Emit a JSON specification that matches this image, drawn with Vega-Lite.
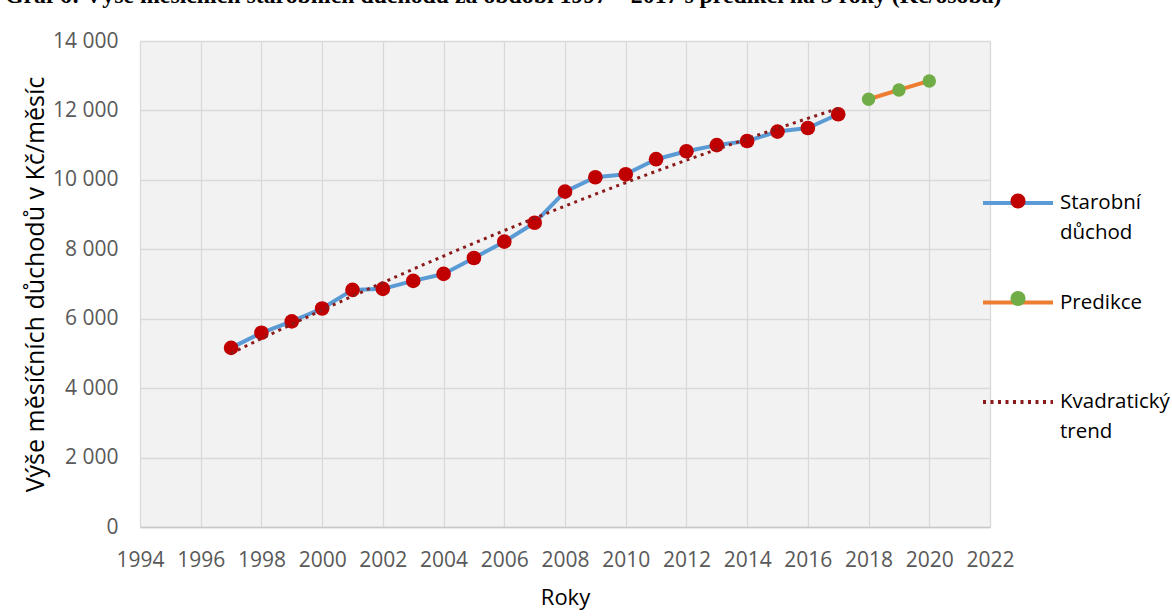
{
  "$schema": "https://vega.github.io/schema/vega-lite/v6.json",
  "width": 850,
  "height": 486,
  "autosize": {"type": "none"},
  "padding": {"left": 140, "top": 41, "right": 182, "bottom": 89},
  "background": "white",
  "title": {
    "text": "Graf 6: Výše měsíčních starobních důchodů za období 1997 – 2017 s predikcí na 3 roky (Kč/osoba)",
    "anchor": "start",
    "frame": "group",
    "font": "Liberation Serif",
    "fontSize": 23.8,
    "fontWeight": "bold",
    "color": "#000000",
    "baseline": "alphabetic",
    "offset": 26,
    "dx": -135,
    "dy": 23
  },
  "config": {
    "view": {"fill": "#F2F2F2", "stroke": null},
    "font": "Open Sans",
    "axis": {
      "labelFont": "Open Sans",
      "labelFontSize": 21,
      "labelColor": "#595959",
      "titleFont": "Open Sans",
      "titleFontSize": 22,
      "titleFontWeight": "normal",
      "titleColor": "#000000",
      "gridColor": "#D9D9D9",
      "gridWidth": 1.3,
      "gridOpacity": 1,
      "ticks": false,
      "tickSize": 0,
      "labelFlush": false
    }
  },
  "data": {
    "values": [
      {"year": 1997, "value": 5160, "series": "Starobní důchod"},
      {"year": 1998, "value": 5595, "series": "Starobní důchod"},
      {"year": 1999, "value": 5925, "series": "Starobní důchod"},
      {"year": 2000, "value": 6295, "series": "Starobní důchod"},
      {"year": 2001, "value": 6830, "series": "Starobní důchod"},
      {"year": 2002, "value": 6860, "series": "Starobní důchod"},
      {"year": 2003, "value": 7090, "series": "Starobní důchod"},
      {"year": 2004, "value": 7290, "series": "Starobní důchod"},
      {"year": 2005, "value": 7750, "series": "Starobní důchod"},
      {"year": 2006, "value": 8220, "series": "Starobní důchod"},
      {"year": 2007, "value": 8765, "series": "Starobní důchod"},
      {"year": 2008, "value": 9660, "series": "Starobní důchod"},
      {"year": 2009, "value": 10075, "series": "Starobní důchod"},
      {"year": 2010, "value": 10160, "series": "Starobní důchod"},
      {"year": 2011, "value": 10595, "series": "Starobní důchod"},
      {"year": 2012, "value": 10825, "series": "Starobní důchod"},
      {"year": 2013, "value": 11000, "series": "Starobní důchod"},
      {"year": 2014, "value": 11120, "series": "Starobní důchod"},
      {"year": 2015, "value": 11390, "series": "Starobní důchod"},
      {"year": 2016, "value": 11495, "series": "Starobní důchod"},
      {"year": 2017, "value": 11890, "series": "Starobní důchod"},
      {"year": 2018, "value": 12322, "series": "Predikce"},
      {"year": 2019, "value": 12590, "series": "Predikce"},
      {"year": 2020, "value": 12850, "series": "Predikce"}
    ]
  },
  "encoding": {
    "x": {
      "field": "year",
      "type": "quantitative",
      "scale": {"domain": [1994, 2022], "nice": false, "zero": false},
      "axis": {
        "title": "Roky",
        "values": [1994, 1996, 1998, 2000, 2002, 2004, 2006, 2008, 2010, 2012, 2014, 2016, 2018, 2020, 2022],
        "format": "d",
        "grid": true,
        "domain": true,
        "domainColor": "#C8C8C8",
        "domainWidth": 1.3,
        "labelPadding": 22,
        "titlePadding": 17,
        "labelOverlap": false,
        "labelFlush": false
      }
    },
    "y": {
      "field": "value",
      "type": "quantitative",
      "scale": {"domain": [0, 14000], "nice": false},
      "axis": {
        "title": "Výše měsíčních důchodů v Kč/měsíc",
        "titleFontSize": 25,
        "values": [0, 2000, 4000, 6000, 8000, 10000, 12000, 14000],
        "labelExpr": "replace(format(datum.value, ','), ',', ' ')",
        "grid": true,
        "domain": false,
        "labelPadding": 22,
        "titlePadding": 4,
        "labelOverlap": false
      }
    }
  },
  "layer": [
    {
      "mark": {"type": "line", "strokeWidth": 4, "strokeCap": "butt", "strokeJoin": "round"},
      "encoding": {
        "stroke": {
          "field": "series",
          "type": "nominal",
          "scale": {
            "domain": ["Starobní důchod", "Predikce", "Kvadratický trend"],
            "range": ["#5B9BD5", "#ED7D31", "#8B1A1A"]
          },
          "legend": {
            "orient": "none",
            "legendX": 841,
            "legendY": 125,
            "title": null,
            "symbolType": "stroke",
            "symbolSize": 4900,
            "symbolStrokeWidth": 4,
            "labelFont": "Open Sans",
            "labelFontSize": 20.5,
            "labelColor": "#000000",
            "labelOffset": 5,
            "labelLimit": 300,
            "labelExpr": "datum.label == 'Starobní důchod' ? ['Starobní', 'důchod'] : datum.label == 'Kvadratický trend' ? ['Kvadratický', 'trend'] : datum.label",
            "gridAlign": "all",
            "rowPadding": 22.5,
            "encode": {
              "labels": {"update": {"lineHeight": {"value": 29.5}}},
              "symbols": {"update": {"strokeDash": {"signal": "datum.label == 'Kvadratický trend' ? [3, 4.5] : [1, 0]"}}}
            }
          }
        }
      }
    },
    {
      "transform": [{"filter": "datum.series == 'Starobní důchod'"}],
      "mark": {"type": "point", "filled": true, "size": 215, "opacity": 1},
      "encoding": {
        "fill": {
          "field": "series",
          "type": "nominal",
          "scale": {
            "domain": ["Starobní důchod", "Predikce", "Kvadratický trend "],
            "range": ["#C00000", "#70AD47", "transparent"]
          },
          "legend": {
            "orient": "none",
            "legendX": 843,
            "legendY": 125,
            "title": null,
            "symbolType": "M -0.214,0 A 0.214,0.214 0 1,1 0.214,0 A 0.214,0.214 0 1,1 -0.214,0 Z",
            "symbolSize": 4900,
            "symbolStrokeWidth": 0,
            "symbolOpacity": 1,
            "labelFont": "Open Sans",
            "labelFontSize": 20.5,
            "labelOpacity": 0,
            "labelOffset": 5,
            "labelLimit": 300,
            "labelExpr": "datum.label == 'Starobní důchod' ? ['Starobní', 'důchod'] : datum.label == 'Kvadratický trend ' ? ['Kvadratický', 'trend'] : datum.label",
            "gridAlign": "all",
            "rowPadding": 22.5,
            "encode": {
              "labels": {"update": {"lineHeight": {"value": 29.5}}}
            }
          }
        }
      }
    },
    {
      "transform": [{"filter": "datum.series == 'Predikce'"}],
      "mark": {"type": "point", "filled": true, "size": 180, "opacity": 1},
      "encoding": {
        "fill": {"field": "series", "type": "nominal"}
      }
    },
    {
      "transform": [
        {"filter": "datum.series == 'Starobní důchod'"},
        {"regression": "value", "on": "year", "method": "quad"}
      ],
      "mark": {"type": "line", "strokeWidth": 3, "strokeDash": [3, 4.5]},
      "encoding": {
        "stroke": {"datum": "Kvadratický trend"}
      }
    }
  ]
}
